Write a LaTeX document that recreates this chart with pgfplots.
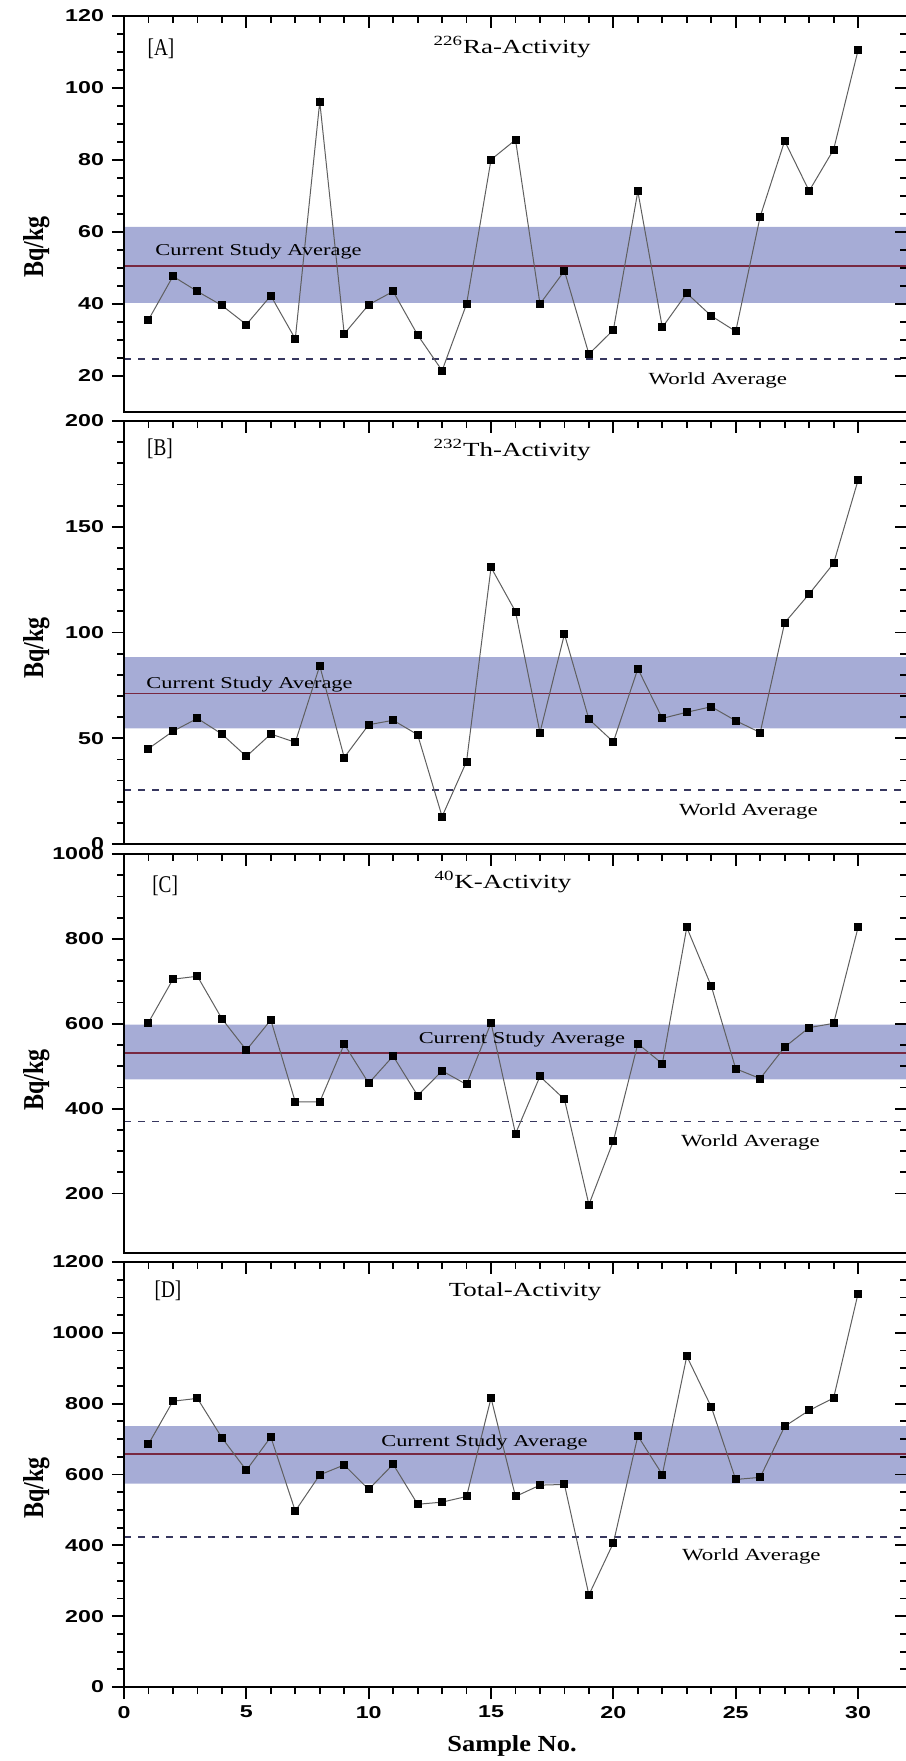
\documentclass[border=0pt]{standalone}
\usepackage{graphicx}
\usepackage{pgfplots}
\pgfplotsset{compat=1.18}
\usepackage{fontspec}
\setmainfont{Liberation Serif}
\newfontfamily\wideserif{Liberation Serif}[FakeStretch=1.35]
\newfontfamily\medserif{Liberation Serif}[FakeStretch=1.15]
\newfontfamily\condserif{Liberation Serif}[FakeStretch=0.8]
\newfontfamily\tickfont{Liberation Sans}[FakeStretch=1.35]
\definecolor{bandc}{RGB}{166,172,214}
\definecolor{avgc}{RGB}{120,40,65}
\definecolor{worldc}{RGB}{55,55,95}
\definecolor{linec}{RGB}{95,95,95}

\pgfplotsset{
  panel/.style={width=391.5pt, scale only axis, xmin=0, xmax=32,
    axis line style={line width=1.1pt},
    every tick/.style={black, line width=0.9pt},
    major tick length=6pt, minor tick length=3.5pt},
  main/.style={panel, tick align=outside, ytick pos=left, xtick pos=left,
    /pgf/number format/assume math mode=true,
    /pgf/number format/1000 sep={},
    ticklabel style={font=\tickfont\bfseries\fontsize{8.6pt}{10pt}\selectfont},
    yticklabel style={xshift=-0.5pt},
    ylabel={\scalebox{1}[1.2]{Bq/kg}},
    ylabel style={font=\bfseries\fontsize{12pt}{14pt}\selectfont, anchor=center}},
  over/.style={panel, tick align=inside, xtick pos=right, ytick pos=right,
    xtick={0,5,...,30}, minor x tick num=4, xticklabels={}, yticklabels={}},
  band/.style={fill=bandc, draw=none, forget plot},
  avg/.style={avgc, line width=0.9pt},
  world/.style={worldc, line width=0.8pt, dash pattern=on 3.5pt off 3.5pt},
  data/.style={linec, line width=0.5pt, mark=square*, mark size=1.75pt,
    mark options={black, solid}},
}
\tikzset{
  wa/.style={font=\wideserif\fontsize{8.5pt}{10pt}\selectfont},
  csa/.style={font=\wideserif\fontsize{8.3pt}{10pt}\selectfont},
  ttl/.style={font=\wideserif\fontsize{10pt}{12pt}\selectfont},
  lab/.style={font=\condserif\fontsize{12pt}{14pt}\selectfont},
}

\begin{document}
\begin{tikzpicture}
% ---------------- Panel A ----------------
\begin{axis}[main, at={(62pt,-8pt)}, anchor=north west, height=198pt,
  ymin=10, ymax=120, ytick={20,40,...,120}, minor y tick num=3, xtick=\empty,
  ylabel style={at={(axis description cs:-0.112,0.417)}}]
\addplot[band] coordinates {(0,40.3) (32,40.3) (32,61.4) (0,61.4) (0,40.3)};
\addplot[avg] coordinates {(0,50.5) (32,50.5)};
\addplot[world] coordinates {(0,24.7) (32,24.7)};
\addplot[data] coordinates {
(1,35.6) (2,47.7) (3,43.5) (4,39.6) (5,34.3) (6,42.3) (7,30.3) (8,96.2) (9,31.7) (10,39.8)
(11,43.5) (12,31.4) (13,21.5) (14,40.0) (15,80.1) (16,85.6) (17,40.0) (18,49.2) (19,26.1) (20,32.8)
(21,71.3) (22,33.5) (23,43.0) (24,36.7) (25,32.4) (26,64.3) (27,85.3) (28,71.4) (29,82.9) (30,110.5)};
\node[lab] at (axis cs:1.51,110.8) {[A]};
\node[ttl] at (axis cs:15.86,111.4) {\textsuperscript{226}Ra-Activity};
\node[csa] at (axis cs:5.5,54.7) {Current Study Average};
\node[wa] at (axis cs:24.27,18.9) {World Average};
\end{axis}
\begin{axis}[over, at={(62pt,-8pt)}, anchor=north west, height=198pt,
  ymin=10, ymax=120, ytick={20,40,...,120}, minor y tick num=3]
\end{axis}
% ---------------- Panel B ----------------
\begin{axis}[main, at={(62pt,-210.5pt)}, anchor=north west, height=211.5pt,
  ymin=0, ymax=200, ytick={0,50,...,200}, minor y tick num=4, xtick=\empty,
  ylabel style={at={(axis description cs:-0.112,0.463)}}]
\addplot[band] coordinates {(0,54.7) (32,54.7) (32,88.4) (0,88.4) (0,54.7)};
\addplot[avg] coordinates {(0,71.2) (32,71.2)};
\addplot[world] coordinates {(0,25.6) (32,25.6)};
\addplot[data] coordinates {
(1,45.1) (2,53.3) (3,59.4) (4,52.0) (5,41.4) (6,52.0) (7,48.1) (8,84.3) (9,40.9) (10,56.4)
(11,58.5) (12,51.7) (13,13.0) (14,39.0) (15,130.8) (16,109.9) (17,52.7) (18,99.2) (19,59.0) (20,48.3)
(21,82.9) (22,59.4) (23,62.3) (24,64.9) (25,58.3) (26,52.7) (27,104.6) (28,118.2) (29,132.7) (30,172.0)};
\node[lab] at (axis cs:1.47,186.8) {[B]};
\node[ttl] at (axis cs:15.86,186.3) {\textsuperscript{232}Th-Activity};
\node[csa] at (axis cs:5.13,75.2) {Current Study Average};
\node[wa] at (axis cs:25.52,15.6) {World Average};
\end{axis}
\begin{axis}[over, at={(62pt,-210.5pt)}, anchor=north west, height=211.5pt,
  ymin=0, ymax=200, ytick={0,50,...,200}, minor y tick num=4]
\end{axis}
% ---------------- Panel C ----------------
\begin{axis}[main, at={(62pt,-427pt)}, anchor=north west, height=199.5pt,
  ymin=60, ymax=1000, ytick={200,400,...,1000}, minor y tick num=3, xtick=\empty,
  ylabel style={at={(axis description cs:-0.112,0.434)}}]
\addplot[band] coordinates {(0,469) (32,469) (32,598) (0,598) (0,469)};
\addplot[avg] coordinates {(0,532) (32,532)};
\addplot[world] coordinates {(0,370) (32,370)};
\addplot[data] coordinates {
(1,603) (2,705) (3,712) (4,612) (5,538) (6,609) (7,416) (8,416) (9,552) (10,460)
(11,524) (12,431) (13,489) (14,457) (15,602) (16,341) (17,476) (18,422) (19,174) (20,324)
(21,553) (22,506) (23,827) (24,689) (25,494) (26,471) (27,545) (28,591) (29,601) (30,827)};
\node[lab] at (axis cs:1.68,924.6) {[C]};
\node[ttl] at (axis cs:15.49,934) {\textsuperscript{40}K-Activity};
\node[csa] at (axis cs:16.26,561.8) {Current Study Average};
\node[wa] at (axis cs:25.6,321.5) {World Average};
\end{axis}
\begin{axis}[over, at={(62pt,-427pt)}, anchor=north west, height=199.5pt,
  ymin=60, ymax=1000, ytick={200,400,...,1000}, minor y tick num=3]
\end{axis}
% ---------------- Panel D ----------------
\begin{axis}[main, at={(62pt,-631pt)}, anchor=north west, height=212.5pt,
  ymin=0, ymax=1200, ytick={0,200,...,1200}, minor y tick num=3,
  xtick={0,5,...,30}, minor x tick num=4,
  ylabel style={at={(axis description cs:-0.112,0.468)}},
  xlabel={Sample No.},
  xlabel style={font=\medserif\bfseries\fontsize{11.5pt}{13pt}\selectfont,
    at={(axis description cs:0.4955,-0.139)}, anchor=center}]
\addplot[band] coordinates {(0,574) (32,574) (32,737) (0,737) (0,574)};
\addplot[avg] coordinates {(0,657) (32,657)};
\addplot[world] coordinates {(0,424) (32,424)};
\addplot[data] coordinates {
(1,686) (2,807) (3,815) (4,704) (5,612) (6,706) (7,497) (8,599) (9,627) (10,558)
(11,629) (12,516) (13,522) (14,538) (15,816) (16,538) (17,570) (18,572) (19,260) (20,407)
(21,709) (22,600) (23,934) (24,791) (25,586) (26,592) (27,736) (28,781) (29,816) (30,1111)};
\node[lab] at (axis cs:1.8,1118) {[D]};
\node[ttl] at (axis cs:16.39,1115.3) {Total-Activity};
\node[csa] at (axis cs:14.73,689) {Current Study Average};
\node[wa] at (axis cs:25.64,369.9) {World Average};
\end{axis}
\begin{axis}[over, at={(62pt,-631pt)}, anchor=north west, height=212.5pt,
  ymin=0, ymax=1200, ytick={0,200,...,1200}, minor y tick num=3]
\end{axis}
\pgfresetboundingbox
\path[use as bounding box] (0pt,0pt) rectangle (452.5pt,-880.5pt);
\end{tikzpicture}
\end{document}
